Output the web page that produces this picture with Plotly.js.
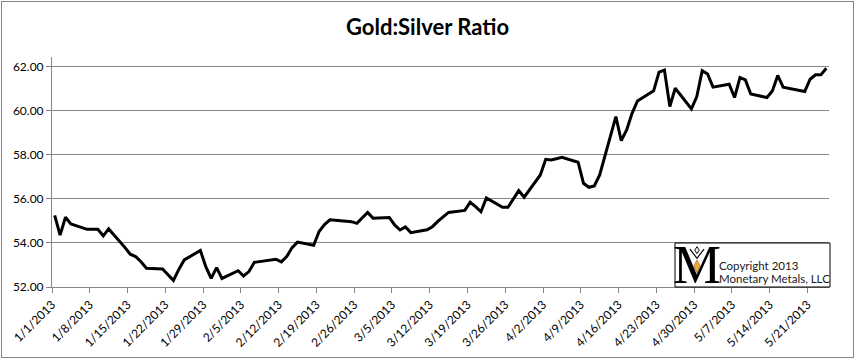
<!DOCTYPE html>
<html>
<head>
<meta charset="utf-8">
<script src="https://cdn.plot.ly/plotly-3.0.1.min.js"></script>
<style>
  html, body { margin: 0; padding: 0; background: #fff; }
  #wrap { position: relative; width: 855px; height: 359px; }
  #chart { position: absolute; left: 0; top: 0; width: 855px; height: 359px; }
  #frame { position: absolute; left: 1px; top: 1px; width: 851px; height: 355px; border: 1px solid #868686; pointer-events: none; }
</style>
</head>
<body>
<div id="wrap"><div id="chart"></div><div id="frame"></div></div>
<script>
// Trading dates (weekdays) 2013
const dates = [
  '2013-01-01','2013-01-02','2013-01-03','2013-01-04',
  '2013-01-07','2013-01-08','2013-01-09','2013-01-10','2013-01-11',
  '2013-01-14','2013-01-15','2013-01-16','2013-01-17','2013-01-18',
  '2013-01-21','2013-01-22','2013-01-23','2013-01-24','2013-01-25',
  '2013-01-28','2013-01-29','2013-01-30','2013-01-31','2013-02-01',
  '2013-02-04','2013-02-05','2013-02-06','2013-02-07','2013-02-08',
  '2013-02-11','2013-02-12','2013-02-13','2013-02-14','2013-02-15',
  '2013-02-18','2013-02-19','2013-02-20','2013-02-21','2013-02-22',
  '2013-02-25','2013-02-26','2013-02-27','2013-02-28','2013-03-01',
  '2013-03-04','2013-03-05','2013-03-06','2013-03-07','2013-03-08',
  '2013-03-11','2013-03-12','2013-03-13','2013-03-14','2013-03-15',
  '2013-03-18','2013-03-19','2013-03-20','2013-03-21','2013-03-22',
  '2013-03-25','2013-03-26','2013-03-27','2013-03-28','2013-03-29',
  '2013-04-01','2013-04-02','2013-04-03','2013-04-04','2013-04-05',
  '2013-04-08','2013-04-09','2013-04-10','2013-04-11','2013-04-12',
  '2013-04-15','2013-04-16','2013-04-17','2013-04-18','2013-04-19',
  '2013-04-22','2013-04-23','2013-04-24','2013-04-25','2013-04-26',
  '2013-04-29','2013-04-30','2013-05-01','2013-05-02','2013-05-03',
  '2013-05-06','2013-05-07','2013-05-08','2013-05-09','2013-05-10',
  '2013-05-13','2013-05-14','2013-05-15','2013-05-16','2013-05-17',
  '2013-05-20','2013-05-21','2013-05-22','2013-05-23','2013-05-24'
];

const ratio = [
  55.25, 54.36, 55.17, 54.86,
  54.62, 54.62, 54.62, 54.32, 54.64,
  53.80, 53.49, 53.38, 53.15, 52.85,
  52.82, 52.56, 52.30, 52.80, 53.23,
  53.66, 52.92, 52.39, 52.88, 52.39,
  52.74, 52.50, 52.70, 53.12, 53.15,
  53.26, 53.14, 53.38, 53.79, 54.04,
  53.90, 54.52, 54.84, 55.05, 55.03,
  54.97, 54.89, 55.12, 55.39, 55.12,
  55.16, 54.82, 54.59, 54.73, 54.47,
  54.60, 54.74, 54.98, 55.17, 55.39,
  55.48, 55.85, 55.65, 55.42, 56.05,
  55.62, 55.62, 56.03, 56.38, 56.08,
  57.09, 57.80, 57.77, 57.83, 57.89,
  57.67, 56.71, 56.53, 56.59, 57.09,
  59.74, 58.65, 59.14, 59.89, 60.45,
  60.91, 61.76, 61.86, 60.20, 61.03,
  60.09, 60.65, 61.83, 61.68, 61.08,
  61.21, 60.61, 61.52, 61.41, 60.77,
  60.61, 60.91, 61.61, 61.08, 61.03,
  60.88, 61.44, 61.64, 61.64, 61.94
];

const tickDates = [
  '2013-01-01','2013-01-08','2013-01-15','2013-01-22','2013-01-29',
  '2013-02-05','2013-02-12','2013-02-19','2013-02-26','2013-03-05',
  '2013-03-12','2013-03-19','2013-03-26','2013-04-02','2013-04-09',
  '2013-04-16','2013-04-23','2013-04-30','2013-05-07','2013-05-14','2013-05-21'
];
const tickLabels = [
  '1/1/2013','1/8/2013','1/15/2013','1/22/2013','1/29/2013',
  '2/5/2013','2/12/2013','2/19/2013','2/26/2013','3/5/2013',
  '3/12/2013','3/19/2013','3/26/2013','4/2/2013','4/9/2013',
  '4/16/2013','4/23/2013','4/30/2013','5/7/2013','5/14/2013','5/21/2013'
];

const chartTitle = 'Gold:Silver Ratio';
const copyrightLines = ['Copyright 2013', 'Monetary Metals, LLC'];

// points sit in the middle of their day slot (date axis)
const xs = dates.map(d => d + ' 12:00');

const gray = '#868686';
const font = 'Lato, "Open Sans", sans-serif';

const trace = {
  x: xs, y: ratio, type: 'scatter', mode: 'lines',
  line: { color: '#000', width: 3, shape: 'linear' },
  hoverinfo: 'x+y'
};

const layout = {
  width: 855, height: 359,
  margin: { l: 52, r: 26, t: 57, b: 72, pad: 0 },
  paper_bgcolor: '#fff', plot_bgcolor: '#fff',
  showlegend: false,
  title: {
    text: '<b>' + chartTitle + '</b>',
    font: { family: font, size: 22, color: '#000' },
    x: 0.5, xref: 'container', xanchor: 'center',
    y: 1 - 27 / 359, yref: 'container', yanchor: 'middle'
  },
  xaxis: {
    type: 'date',
    range: ['2013-01-01', '2013-05-25'],
    tickmode: 'array', tickvals: tickDates, ticktext: tickLabels,
    tickangle: -45,
    tickfont: { family: font, size: 12, color: '#000' },
    ticks: 'outside', ticklen: 5, tickcolor: gray, tickwidth: 1,
    showline: true, linecolor: gray, linewidth: 1,
    showgrid: false, zeroline: false, automargin: false, fixedrange: true
  },
  yaxis: {
    range: [52, 62.45],
    tick0: 52, dtick: 2, tickformat: '.2f',
    tickfont: { family: font, size: 12, color: '#000' },
    ticks: 'outside', ticklen: 5, tickcolor: gray, tickwidth: 1,
    showline: true, linecolor: gray, linewidth: 1,
    showgrid: true, gridcolor: gray, gridwidth: 1,
    zeroline: false, automargin: false, fixedrange: true
  },
  shapes: [
    { type: 'rect', xref: 'paper', yref: 'paper',
      x0: (675 - 52) / 777, x1: (830 - 52) / 777, y0: 0, y1: (287 - 243) / 230,
      line: { color: '#000', width: 1 }, fillcolor: '#fff', layer: 'above' },
    { type: 'path', xref: 'paper', yref: 'paper', layer: 'above',
      path: 'M 0.8301 0.118 L 0.8340 0.092 L 0.8301 0.060 L 0.8262 0.092 Z',
      fillcolor: '#f4a63a', line: { color: '#6b4a10', width: 0.5 } },
    { type: 'path', xref: 'paper', yref: 'paper', layer: 'above',
      path: 'M 0.8301 0.175 L 0.8330 0.160 L 0.8301 0.145 L 0.8272 0.160 Z',
      fillcolor: '#fff', line: { color: '#000', width: 1 } },
    { type: 'path', xref: 'paper', yref: 'paper', layer: 'above',
      path: 'M 0.8210 0.165 L 0.8301 0.125 L 0.8392 0.165',
      line: { color: '#000', width: 1.2 } }
  ],
  annotations: [
    { text: 'M', xref: 'paper', yref: 'paper',
      x: (697 - 52) / 777, y: (287 - 265) / 230, xanchor: 'center', yanchor: 'middle',
      showarrow: false,
      font: { family: '"Liberation Serif", "DejaVu Serif", serif', size: 54, color: '#000' } },
    { text: copyrightLines[0], xref: 'paper', yref: 'paper',
      x: (717 - 52) / 777, y: (287 - 265) / 230, xanchor: 'left', yanchor: 'middle',
      showarrow: false, font: { family: font, size: 11.5, color: '#1a1a1a' } },
    { text: copyrightLines[1], xref: 'paper', yref: 'paper',
      x: (717 - 52) / 777, y: (287 - 278) / 230, xanchor: 'left', yanchor: 'middle',
      showarrow: false, font: { family: font, size: 11.5, color: '#1a1a1a' } }
  ]
};

Plotly.newPlot('chart', [trace], layout, { displayModeBar: false, staticPlot: true });
</script>
</body>
</html>
